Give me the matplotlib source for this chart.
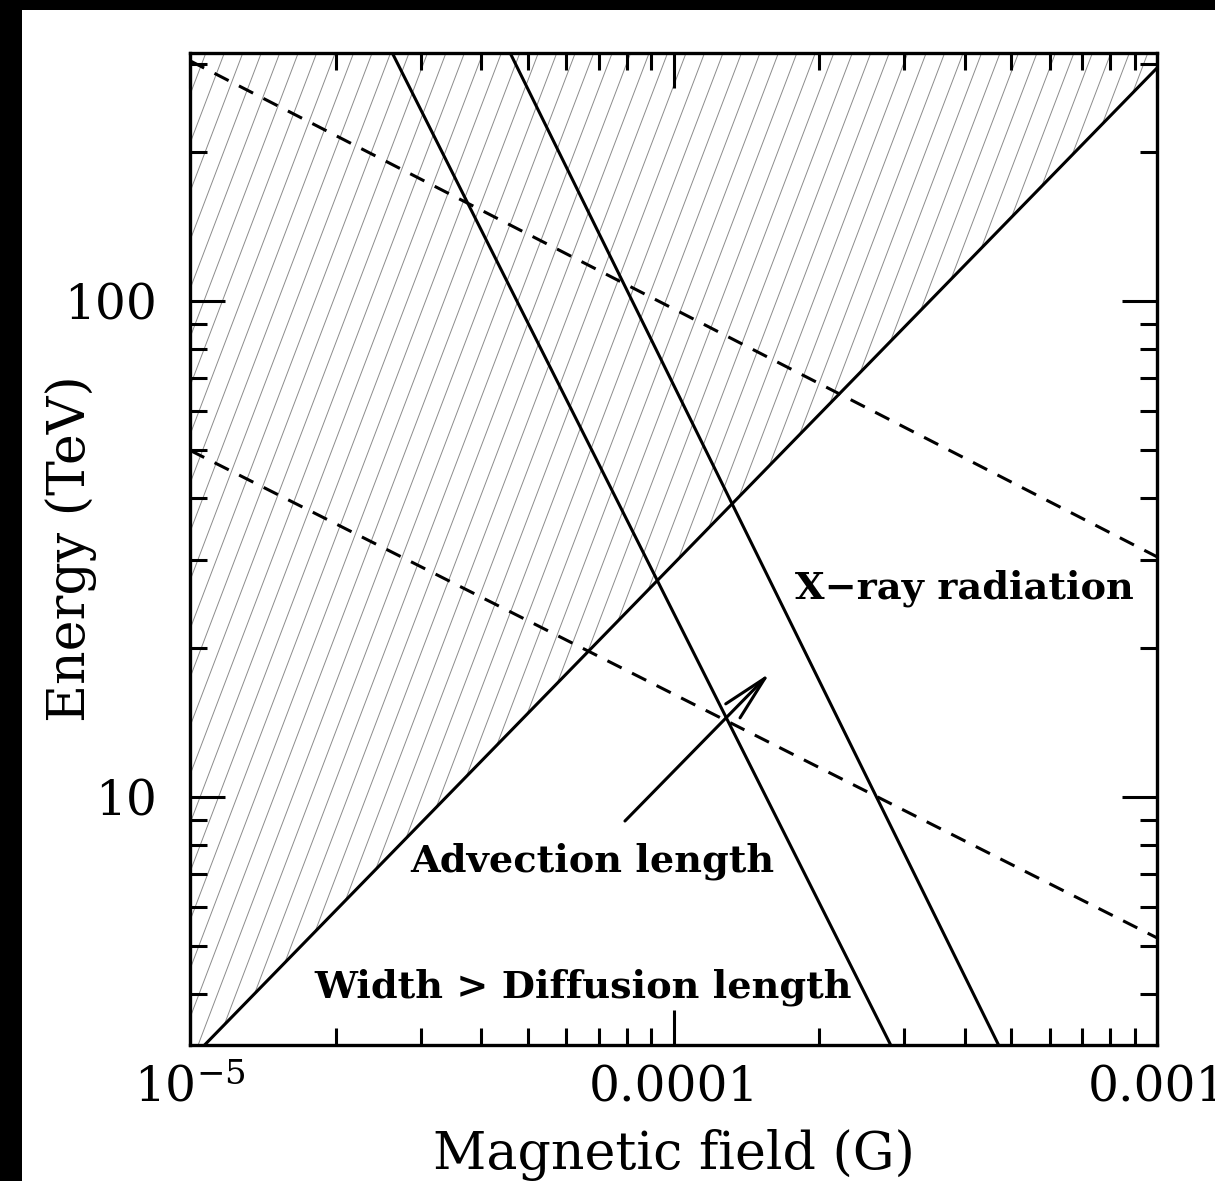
import numpy as np
import matplotlib
matplotlib.use('Agg')
import matplotlib.pyplot as plt
from matplotlib.patches import Rectangle
from matplotlib.collections import LineCollection
from matplotlib.ticker import FixedLocator, FixedFormatter, LogLocator, NullFormatter

plt.rcParams['font.family'] = 'DejaVu Serif'
plt.rcParams['mathtext.fontset'] = 'dejavuserif'

# Line end points (B in Gauss, E in TeV)
B_ends = [1e-5, 1e-3]
E_width = [2.95, 295]        # width = diffusion length boundary (rising)
E_advection = [2050, 0.27]   # advection length
E_xray = [6470, 0.71]        # X-ray radiation
E_dash_upper = [305, 30.5]
E_dash_lower = [50, 5.2]

x_ticks = [1e-5, 1e-4, 1e-3]
x_ticklabels = [r'$10^{-5}$', '0.0001', '0.001']
y_ticks = [10, 100]
y_ticklabels = ['10', '100']
x_range = (1e-5, 1e-3)
y_range = (10 ** 0.5, 10 ** 2.5)

fig = plt.figure(figsize=(12.15, 11.81), dpi=100, facecolor='black')
fig.patches.append(Rectangle((22 / 1215, 0), 1, 1171 / 1181, transform=fig.transFigure,
                             facecolor='white', edgecolor='none', zorder=-1))
ax = fig.add_axes([190 / 1215, 136 / 1181, 967 / 1215, 992 / 1181])
ax.set_xscale('log')
ax.set_yscale('log')

# hatched region above the rising line
poly = ax.fill_between(B_ends, E_width, 1e4, facecolor='none', edgecolor='none')
offsets = np.arange(-0.45, 1.0, 0.0191)
segs = [[(c, 0), (c + 0.39, 1)] for c in offsets]
hatch = LineCollection(segs, transform=ax.transAxes, colors='0.55', linewidths=0.7, zorder=1)
hatch.set_clip_path(poly.get_paths()[0], ax.transData)
ax.add_collection(hatch)

lw = 2.2
ax.plot(B_ends, E_width, color='black', lw=lw, zorder=3)
ax.plot(B_ends, E_advection, color='black', lw=lw, zorder=3)
ax.plot(B_ends, E_xray, color='black', lw=lw, zorder=3)
ax.plot(B_ends, E_dash_upper, color='black', lw=lw, ls=(0, (5.2, 3.8)), zorder=3)
ax.plot(B_ends, E_dash_lower, color='black', lw=lw, ls=(0, (5.2, 3.8)), zorder=3)

ax.set_xlim(*x_range)
ax.set_ylim(*y_range)

ax.xaxis.set_major_locator(FixedLocator(x_ticks))
ax.xaxis.set_major_formatter(FixedFormatter(x_ticklabels))
ax.yaxis.set_major_locator(FixedLocator(y_ticks))
ax.yaxis.set_major_formatter(FixedFormatter(y_ticklabels))
ax.xaxis.set_minor_locator(LogLocator(base=10, subs=np.arange(2, 10)))
ax.yaxis.set_minor_locator(LogLocator(base=10, subs=np.arange(2, 10)))
ax.xaxis.set_minor_formatter(NullFormatter())
ax.yaxis.set_minor_formatter(NullFormatter())

ax.tick_params(which='both', direction='in', top=True, right=True, width=2.2, labelsize=35)
ax.tick_params(which='major', length=25)
ax.tick_params(which='minor', length=12)
ax.tick_params(axis='x', which='major', pad=14)
ax.tick_params(axis='y', which='major', pad=24)
for s in ax.spines.values():
    s.set_linewidth(2.4)

ax.set_xlabel('Magnetic field (G)', fontsize=37.5, va='top')
ax.xaxis.set_label_coords(0.5, -0.085)
ax.set_ylabel('Energy (TeV)', fontsize=37.5)
ax.yaxis.set_label_coords(-0.096, 0.5)

txt = dict(fontsize=27.5, fontweight='bold', ha='left', va='baseline', transform=ax.transAxes, zorder=4)
ax.text(0.6257, 0.4506, 'X\u2212ray radiation', **txt)
ax.text(0.2275, 0.1744, 'Advection length', **txt)
ax.text(0.1282, 0.0474, 'Width > Diffusion length', **txt)

ax.annotate('', xy=(0.5998, 0.375), xytext=(0.4498, 0.2258),
            xycoords='axes fraction', textcoords='axes fraction',
            arrowprops=dict(arrowstyle='->,head_length=1.65,head_width=0.36',
                            lw=2.2, color='black', mutation_scale=20,
                            shrinkA=0, shrinkB=0))

fig.savefig('out.png', dpi=100, facecolor=fig.get_facecolor())
